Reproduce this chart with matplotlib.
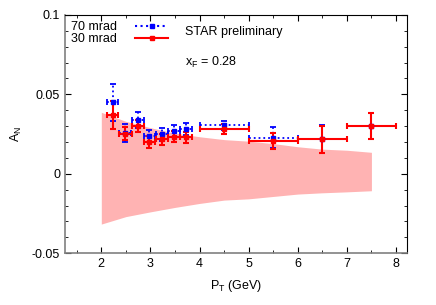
import matplotlib
matplotlib.use("Agg")
import matplotlib.pyplot as plt
from matplotlib.ticker import MultipleLocator
from matplotlib.lines import Line2D

plt.rcParams['font.family'] = ['Liberation Sans', 'DejaVu Sans']
plt.rcParams['font.size'] = 9

# 70 mrad (blue)
pt70 = [2.23, 2.49, 2.74, 2.98, 3.23, 3.48, 3.72, 4.5, 5.5, 6.5, 7.5]
an70 = [0.045, 0.0258, 0.0338, 0.0237, 0.0248, 0.0271, 0.028, 0.0305, 0.0227, 0.0216, 0.030]
ex70 = [0.12, 0.12, 0.12, 0.12, 0.12, 0.12, 0.12, 0.5, 0.5, 0.5, 0.5]
ey70 = [0.0115, 0.0058, 0.005, 0.0038, 0.0042, 0.0038, 0.0038, 0.003, 0.0066, 0.0088, 0.0082]

# 30 mrad (red)
pt30 = [2.23, 2.49, 2.74, 2.98, 3.23, 3.48, 3.72, 4.5, 5.5, 6.5, 7.5]
an30 = [0.0368, 0.0252, 0.0302, 0.020, 0.0216, 0.0233, 0.0229, 0.0283, 0.0204, 0.0216, 0.030]
ex30 = [0.12, 0.13, 0.12, 0.12, 0.12, 0.12, 0.12, 0.5, 0.5, 0.5, 0.5]
ey30 = [0.0087, 0.0042, 0.0038, 0.0035, 0.0035, 0.0035, 0.0035, 0.003, 0.005, 0.0086, 0.008]

# theory band
band_pt = [2.0, 2.5, 3.0, 3.5, 4.0, 4.5, 5.0, 5.5, 6.0, 6.5, 7.0, 7.5]
band_lo = [-0.0317, -0.027, -0.024, -0.0212, -0.0187, -0.0166, -0.0158, -0.0143, -0.0128, -0.012, -0.0114, -0.0107]
band_hi = [0.0387, 0.033, 0.029, 0.0255, 0.0233, 0.0215, 0.0205, 0.019, 0.017, 0.0155, 0.0148, 0.0135]

fig = plt.figure(figsize=(4.36, 3.05), dpi=100)
ax = fig.add_axes([0.149, 0.170, 0.784, 0.781])

ax.fill_between(band_pt, band_lo, band_hi, color='#ffb3b3', lw=0)

eb70 = ax.errorbar(pt70, an70, xerr=ex70, yerr=ey70, fmt='s', color='blue', ms=3,
                   elinewidth=1.3, capsize=2, capthick=1.3)
for lc in eb70[2]:
    lc.set_linestyle(':')
eb30 = ax.errorbar(pt30, an30, xerr=ex30, yerr=ey30, fmt='s', color='red', ms=3,
                   elinewidth=1.5, capsize=2, capthick=1.5)

ax.set_xlim(1.26, 8.22)
ax.set_ylim(-0.05, 0.1)
ax.xaxis.set_major_locator(MultipleLocator(1))
ax.xaxis.set_minor_locator(MultipleLocator(0.5))
ax.yaxis.set_major_locator(MultipleLocator(0.05))
ax.yaxis.set_minor_locator(MultipleLocator(0.01))
ax.set_yticks([-0.05, 0, 0.05, 0.1])
ax.set_yticklabels(['-0.05', '0', '0.05', '0.1'])
ax.set_xticks([2, 3, 4, 5, 6, 7, 8])
ax.tick_params(which='both', direction='in', top=True, right=True)
ax.tick_params(which='major', length=4)
ax.tick_params(which='minor', length=2.5)
for s in ['left', 'bottom']:
    ax.spines[s].set_color('#808080')
    ax.spines[s].set_linewidth(1.2)

ax.set_xlabel('P$_\\mathregular{T}$ (GeV)', labelpad=6)
ax.set_ylabel('A$_\\mathregular{N}$', labelpad=6)

h70 = Line2D([], [], color='blue', ls=':', lw=1.5, marker='s', ms=3)
h30 = Line2D([], [], color='red', ls='-', lw=1.5, marker='s', ms=3)
ax.legend([h70, h30], ['70 mrad', '30 mrad'], loc='upper left', frameon=False,
          markerfirst=False, handlelength=2.7, handletextpad=1.4, labelspacing=0.0,
          borderaxespad=0.2, borderpad=0.3)

fig.text(185 / 436, 1 - 32 / 305, 'STAR preliminary', va='center')
fig.text(185 / 436, 1 - 62 / 305, 'x$_\\mathregular{F}$ = 0.28', va='center')

fig.savefig('out.png', dpi=100)
